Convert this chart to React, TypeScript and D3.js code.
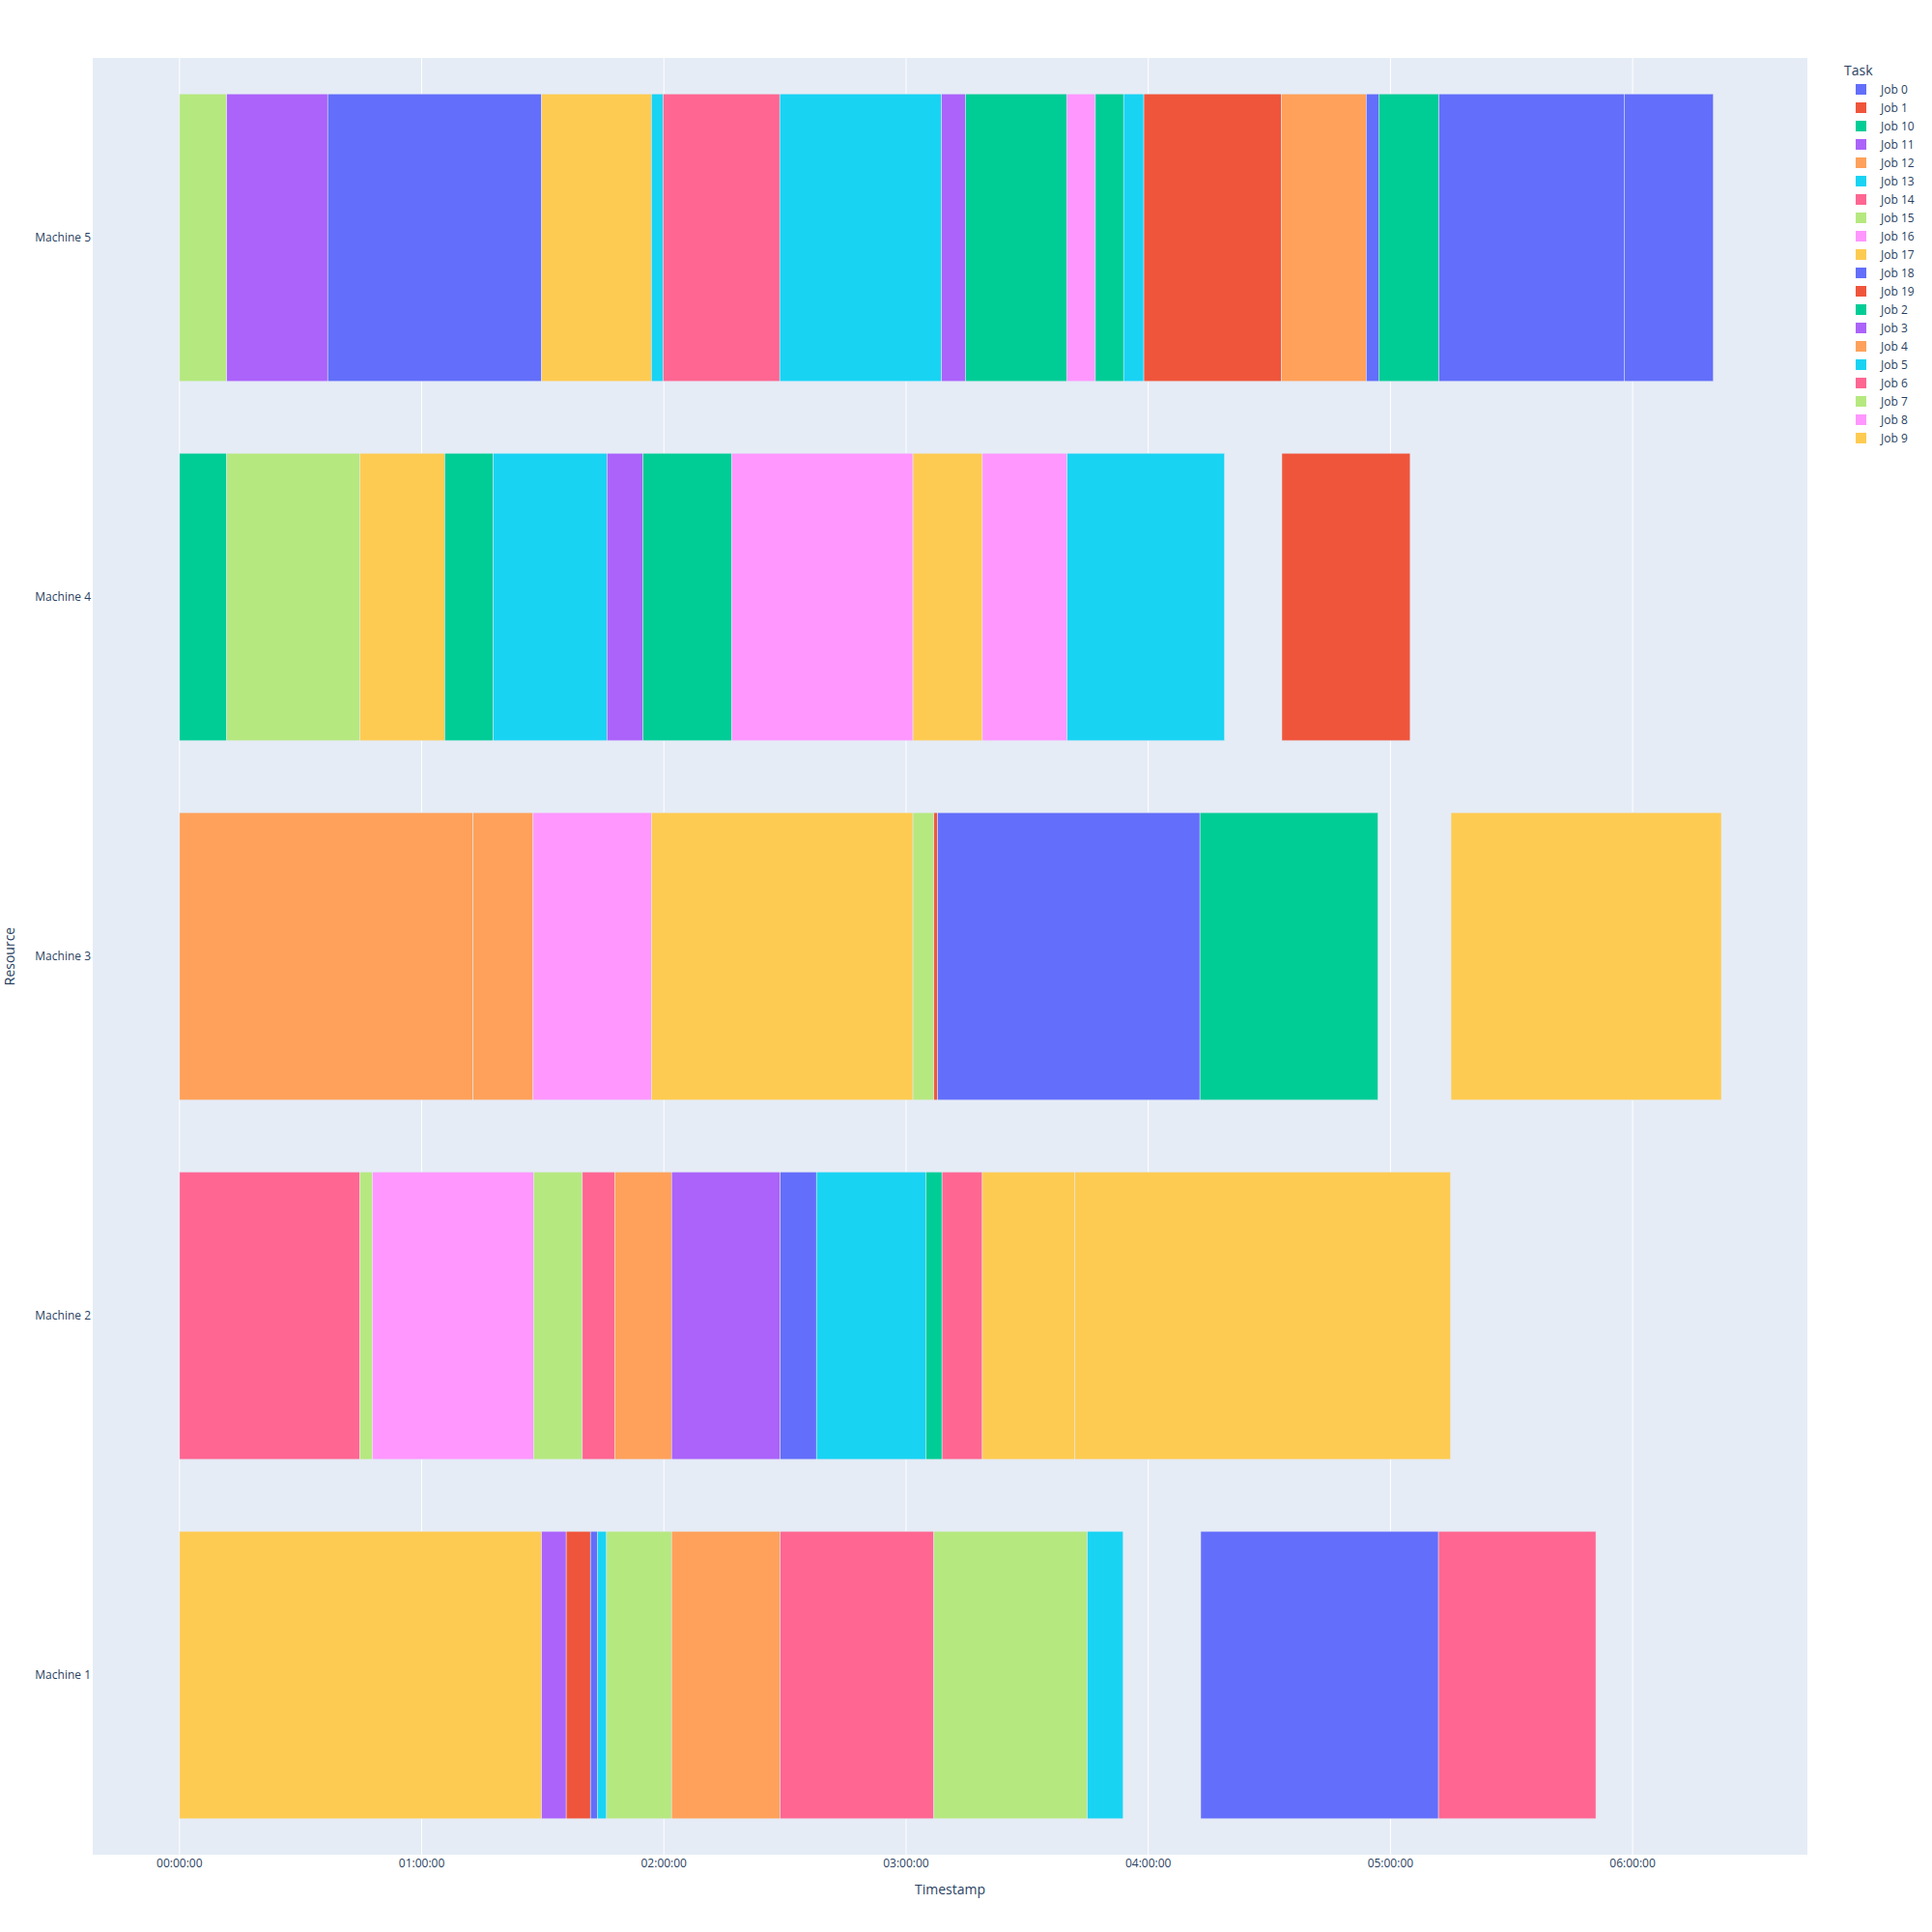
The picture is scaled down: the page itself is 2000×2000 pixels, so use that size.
import React, { useEffect, useRef } from 'react';
import * as d3 from 'd3';

// minutes from 00:00:00, [task, start, finish]
const machine1Tasks: [string, number, number][] = [
  ['Job 9', 0, 89.7], ['Job 3', 89.7, 95.8], ['Job 1', 95.8, 101.8], ['Job 0', 101.8, 103.5],
  ['Job 5', 103.5, 105.8], ['Job 7', 105.8, 121.9], ['Job 4', 121.9, 148.8], ['Job 6', 148.8, 186.9],
  ['Job 15', 186.9, 224.9], ['Job 13', 224.9, 233.8], ['Job 18', 253.0, 311.9], ['Job 14', 311.9, 350.9],
];
const machine2Tasks: [string, number, number][] = [
  ['Job 14', 0, 44.7], ['Job 7', 44.7, 47.8], ['Job 16', 47.8, 87.7], ['Job 15', 87.7, 99.8],
  ['Job 6', 99.8, 107.8], ['Job 12', 107.8, 121.9], ['Job 11', 121.9, 148.8], ['Job 0', 148.8, 157.8],
  ['Job 5', 157.8, 184.9], ['Job 2', 184.9, 188.9], ['Job 14', 188.9, 198.9], ['Job 17', 198.9, 221.8],
  ['Job 9', 221.8, 314.9],
];
const machine3Tasks: [string, number, number][] = [
  ['Job 12', 0, 72.7], ['Job 4', 72.7, 87.6], ['Job 8', 87.6, 116.9], ['Job 17', 116.9, 181.7],
  ['Job 7', 181.7, 186.9], ['Job 19', 186.9, 187.8], ['Job 18', 187.8, 252.8], ['Job 10', 252.8, 296.9],
  ['Job 9', 315.0, 382.0],
];
const machine4Tasks: [string, number, number][] = [
  ['Job 2', 0, 11.7], ['Job 15', 11.7, 44.7], ['Job 9', 44.7, 65.7], ['Job 10', 65.7, 77.7],
  ['Job 13', 77.7, 105.9], ['Job 3', 105.9, 114.8], ['Job 2', 114.8, 136.8], ['Job 8', 136.8, 181.7],
  ['Job 17', 181.7, 198.9], ['Job 16', 198.9, 219.9], ['Job 5', 219.9, 258.9], ['Job 1', 273.1, 304.9],
];
const machine5Tasks: [string, number, number][] = [
  ['Job 15', 0, 11.7], ['Job 11', 11.7, 36.7], ['Job 0', 36.7, 89.7], ['Job 17', 89.7, 116.9],
  ['Job 13', 116.9, 119.8], ['Job 14', 119.8, 148.7], ['Job 5', 148.7, 188.8], ['Job 3', 188.8, 194.7],
  ['Job 10', 194.7, 219.8], ['Job 16', 219.8, 226.9], ['Job 2', 226.9, 233.9], ['Job 13', 233.9, 238.9],
  ['Job 1', 238.9, 273.0], ['Job 12', 273.0, 294.0], ['Job 18', 294.0, 297.1], ['Job 10', 297.1, 312.0],
  ['Job 0', 312.0, 357.9], ['Job 18', 357.9, 380.0],
];

const machines = ['Machine 5', 'Machine 4', 'Machine 3', 'Machine 2', 'Machine 1'];
const machineTasks = [machine5Tasks, machine4Tasks, machine3Tasks, machine2Tasks, machine1Tasks];

const jobs = [
  'Job 0', 'Job 1', 'Job 10', 'Job 11', 'Job 12', 'Job 13', 'Job 14', 'Job 15', 'Job 16', 'Job 17',
  'Job 18', 'Job 19', 'Job 2', 'Job 3', 'Job 4', 'Job 5', 'Job 6', 'Job 7', 'Job 8', 'Job 9',
];
const palette = ['#636efa', '#EF553B', '#00cc96', '#ab63fa', '#FFA15A', '#19d3f3', '#FF6692', '#B6E880', '#FF97FF', '#FECB52'];

const timeRange = [-21.5, 403.3]; // minutes shown on the x axis

const App = () => {
  const svgRef = useRef<SVGSVGElement>(null);
  const width = 2000;
  const height = 2000;

  useEffect(() => {
    const svg = d3.select(svgRef.current);
    svg.selectAll('*').remove();

    const margin = { top: 60, right: 129, bottom: 80, left: 96 };
    const plotW = width - margin.left - margin.right;
    const plotH = height - margin.top - margin.bottom;
    const font = '"Open Sans", verdana, arial, sans-serif';
    const textColor = '#2a3f5f';

    const base = Date.UTC(1970, 0, 1);
    const toDate = (m: number) => new Date(base + m * 60000);

    const x = d3.scaleUtc()
      .domain([toDate(timeRange[0]), toDate(timeRange[1])])
      .range([margin.left, margin.left + plotW]);

    const y = d3.scaleBand()
      .domain(machines)
      .range([margin.top, margin.top + plotH])
      .paddingInner(0.2)
      .paddingOuter(0.1);

    const color = d3.scaleOrdinal<string, string>()
      .domain(jobs)
      .range(jobs.map((_, i) => palette[i % palette.length]));

    svg.append('rect')
      .attr('width', width)
      .attr('height', height)
      .attr('fill', 'white');

    svg.append('rect')
      .attr('x', margin.left)
      .attr('y', margin.top)
      .attr('width', plotW)
      .attr('height', plotH)
      .attr('fill', '#E5ECF6');

    // vertical grid
    const ticks = x.ticks(d3.utcHour.every(1) as any);
    svg.append('g')
      .selectAll('line')
      .data(ticks)
      .enter()
      .append('line')
      .attr('x1', d => x(d))
      .attr('x2', d => x(d))
      .attr('y1', margin.top)
      .attr('y2', margin.top + plotH)
      .attr('stroke', 'white')
      .attr('stroke-width', 1);

    // bars
    const rows = machines.flatMap((m, i) =>
      machineTasks[i].map(t => ({ machine: m, task: t[0], start: t[1], end: t[2] })));

    svg.append('g')
      .selectAll('rect')
      .data(rows)
      .enter()
      .append('rect')
      .attr('x', d => x(toDate(d.start)))
      .attr('y', d => y(d.machine) as number)
      .attr('width', d => x(toDate(d.end)) - x(toDate(d.start)))
      .attr('height', y.bandwidth())
      .attr('fill', d => color(d.task))
      .attr('stroke', '#E5ECF6')
      .attr('stroke-width', 0.5);

    // x tick labels
    const fmt = d3.utcFormat('%H:%M:%S');
    svg.append('g')
      .selectAll('text')
      .data(ticks)
      .enter()
      .append('text')
      .attr('x', d => x(d))
      .attr('y', margin.top + plotH + 13)
      .attr('text-anchor', 'middle')
      .style('font-family', font)
      .style('font-size', '12px')
      .style('fill', textColor)
      .text(d => fmt(d));

    // y tick labels
    svg.append('g')
      .selectAll('text')
      .data(machines)
      .enter()
      .append('text')
      .attr('x', margin.left - 2)
      .attr('y', d => (y(d) as number) + y.bandwidth() / 2)
      .attr('dy', '0.35em')
      .attr('text-anchor', 'end')
      .style('font-family', font)
      .style('font-size', '12px')
      .style('fill', textColor)
      .text(d => d);

    svg.append('text')
      .attr('x', margin.left + plotW / 2)
      .attr('y', margin.top + plotH + 41)
      .attr('text-anchor', 'middle')
      .style('font-family', font)
      .style('font-size', '14px')
      .style('fill', textColor)
      .text('Timestamp');

    svg.append('text')
      .attr('transform', `translate(15, ${margin.top + plotH / 2}) rotate(-90)`)
      .attr('text-anchor', 'middle')
      .style('font-family', font)
      .style('font-size', '14px')
      .style('fill', textColor)
      .text('Resource');

    // legend
    const legend = svg.append('g').attr('transform', 'translate(1909, 0)');
    legend.append('text')
      .attr('x', 0)
      .attr('y', 78)
      .style('font-family', font)
      .style('font-size', '14px')
      .style('fill', textColor)
      .text('Task');

    const item = legend.selectAll('.item')
      .data(jobs)
      .enter()
      .append('g')
      .attr('class', 'item')
      .attr('transform', (_, i) => `translate(0, ${92.5 + i * 19})`);

    item.append('rect')
      .attr('x', 12)
      .attr('y', -5.5)
      .attr('width', 11)
      .attr('height', 11)
      .attr('fill', d => color(d));

    item.append('text')
      .attr('x', 38)
      .attr('dy', '0.35em')
      .style('font-family', font)
      .style('font-size', '12px')
      .style('fill', textColor)
      .text(d => d);
  }, []);

  return (
    <svg ref={svgRef} width={width} height={height} style={{ position: 'absolute', left: 0, top: 0 }}></svg>
  );
};

export default App;
